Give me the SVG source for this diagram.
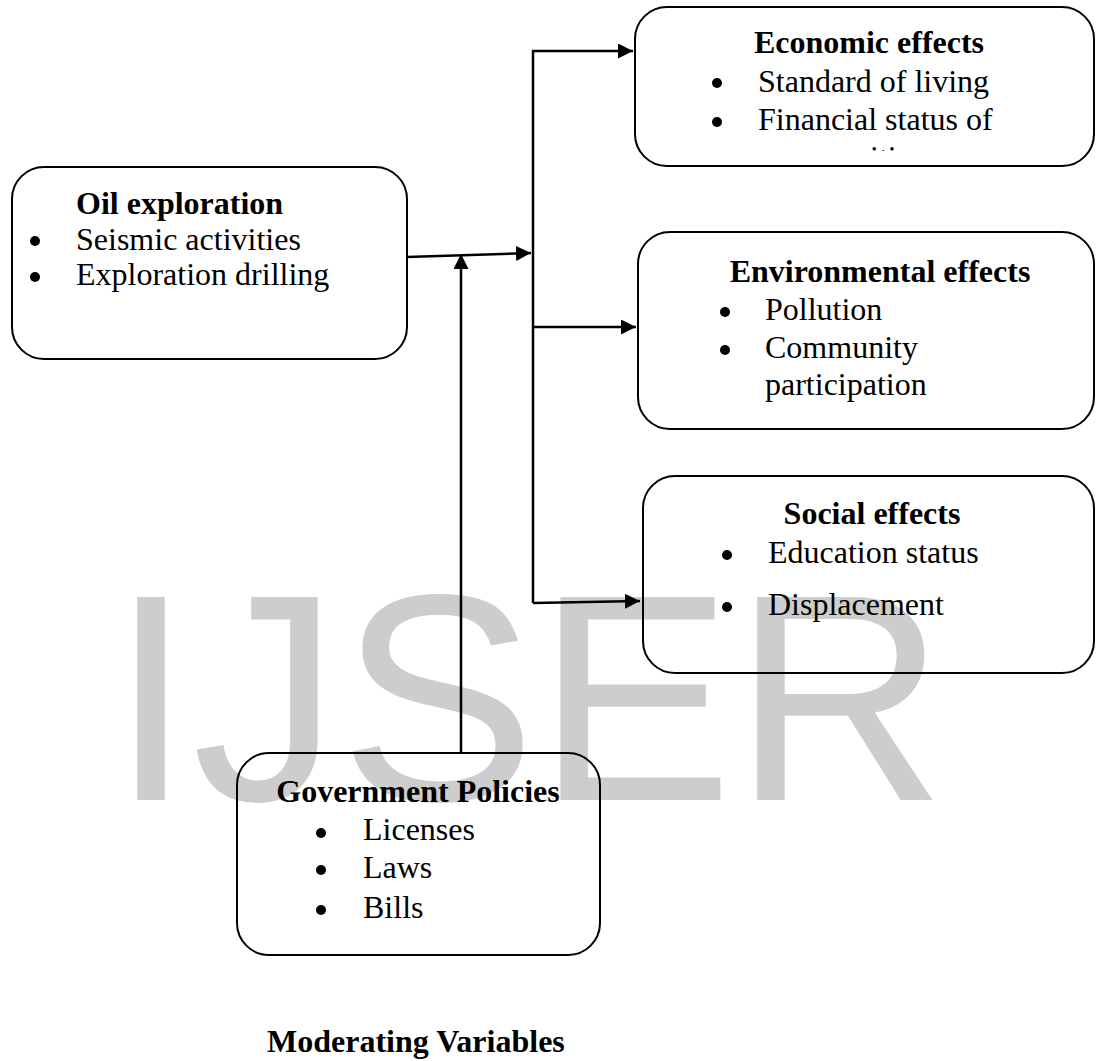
<svg xmlns="http://www.w3.org/2000/svg" width="1096" height="1061" viewBox="0 0 1096 1061">
<style>
.box{fill:none;stroke:#000;stroke-width:2}
.t{font-family:"Liberation Serif","Times New Roman",serif;font-size:32px;fill:#000}
.b{font-weight:bold}
.c{stroke:#000;stroke-width:2.5;fill:none}
.wm{font-family:"Liberation Sans",Arial,sans-serif;font-size:295px;fill:#cdcdcd}
</style>
<defs>
<marker id="ah" viewBox="0 0 10 10" refX="10" refY="5" markerWidth="6" markerHeight="6" markerUnits="strokeWidth" orient="auto">
<path d="M0,0 L10,5 L0,10 z" fill="#000"/>
</marker>
<clipPath id="econClip"><rect x="636" y="8" width="458" height="143"/></clipPath>
</defs>
<rect width="1096" height="1061" fill="#fff"/>
<text class="wm" x="110" y="800">IJSER</text>

<g id="connectors">
<line class="c" x1="407" y1="257" x2="531" y2="253" marker-end="url(#ah)"/>
<line class="c" x1="461" y1="753" x2="461" y2="254" marker-end="url(#ah)"/>
<polyline class="c" points="533,603 533,51 633,51" marker-end="url(#ah)"/>
<line class="c" x1="533" y1="327" x2="636" y2="327" marker-end="url(#ah)"/>
<line class="c" x1="533" y1="603" x2="640" y2="601" marker-end="url(#ah)"/>
</g>

<g id="oil">
<rect class="box" x="12" y="167" width="395" height="192" rx="32"/>
<text class="t b" x="76" y="214">Oil exploration</text>
<circle cx="35" cy="241" r="5"/>
<text class="t" x="76" y="250">Seismic activities</text>
<circle cx="35" cy="277" r="5"/>
<text class="t" x="76" y="285">Exploration drilling</text>
</g>

<g id="economic">
<rect class="box" x="635" y="7" width="459" height="159" rx="32"/>
<text class="t b" x="869" y="53" text-anchor="middle">Economic effects</text>
<circle cx="717" cy="83" r="5"/>
<text class="t" x="758" y="92">Standard of living</text>
<circle cx="717" cy="122" r="5"/>
<text class="t" x="758" y="130">Financial status of</text>
<text class="t" x="758" y="168" clip-path="url(#econClip)">communities</text>
</g>

<g id="environmental">
<rect class="box" x="638" y="232" width="456" height="197" rx="32"/>
<text class="t b" x="880" y="282" text-anchor="middle">Environmental effects</text>
<circle cx="725" cy="312" r="5"/>
<text class="t" x="765" y="320">Pollution</text>
<circle cx="725" cy="350" r="5"/>
<text class="t" x="765" y="358">Community</text>
<text class="t" x="765" y="395">participation</text>
</g>

<g id="social">
<rect class="box" x="643" y="476" width="451" height="197" rx="32"/>
<text class="t b" x="872" y="524" text-anchor="middle">Social effects</text>
<circle cx="727" cy="555" r="5"/>
<text class="t" x="768" y="563">Education status</text>
<circle cx="727" cy="607" r="5"/>
<text class="t" x="768" y="615">Displacement</text>
</g>

<g id="government">
<rect class="box" x="237" y="753" width="363" height="202" rx="32"/>
<text class="t b" x="418" y="802" text-anchor="middle">Government Policies</text>
<circle cx="321" cy="833" r="5"/>
<text class="t" x="363" y="840">Licenses</text>
<circle cx="321" cy="870" r="5"/>
<text class="t" x="363" y="878">Laws</text>
<circle cx="321" cy="910" r="5"/>
<text class="t" x="363" y="918">Bills</text>
</g>

<g id="moderating">
<text class="t b" x="267" y="1052">Moderating Variables</text>
</g>
</svg>
